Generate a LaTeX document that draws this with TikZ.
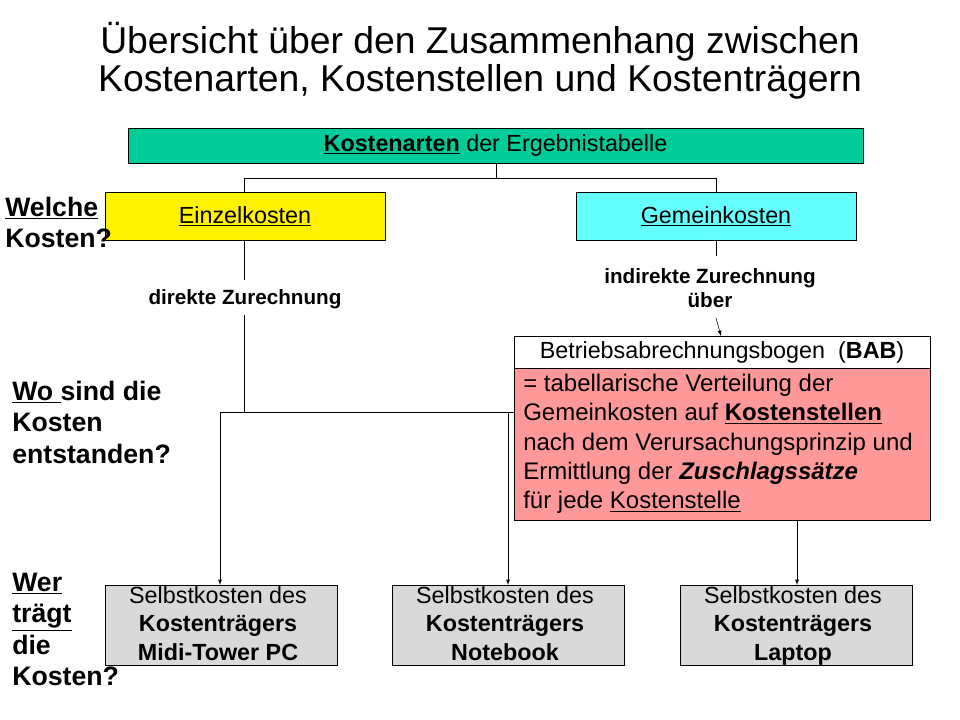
\documentclass[tikz,border=0pt]{standalone}
\usepackage{fontspec}
\setmainfont{Liberation Sans}
\usetikzlibrary{positioning,arrows}
\definecolor{artgreen}{RGB}{0,204,153}
\definecolor{gemcyan}{RGB}{102,255,255}
\definecolor{babpink}{RGB}{255,153,153}
\definecolor{trgray}{RGB}{217,217,217}
\newcommand{\ulin}[1]{\underline{#1}}
\tikzset{
  kbox/.style={inner sep=0pt, font=\fontsize{17.5}{20}\selectfont},
  side/.style={anchor=north west, align=left, inner sep=0pt, font=\bfseries\fontsize{20}{23.5}\selectfont},
  hint/.style={align=center, inner sep=1pt, font=\bfseries\fontsize{15.5}{18.5}\selectfont},
  pfeil/.style={-latex}
}
\begin{document}
\begin{tikzpicture}[x=0.75pt,y=-0.75pt]
\useasboundingbox (0,0) rectangle (960,720);
% Titel
\node[align=center, font=\fontsize{28}{28.5}\selectfont] (titel) at (480,61)
  {Übersicht über den Zusammenhang zwischen\\Kostenarten, Kostenstellen und Kostenträgern};
% Kostenarten
\draw[fill=artgreen] (128,128) rectangle (863,163);
\node[kbox] (arten) at (495.5,145.5) {\textbf{\ulin{Kostenarten}} der Ergebnistabelle};
\draw[fill=yellow] (105,192) rectangle (385,240);
\node[kbox] (einzel) at (245,216) {\ulin{Einzelkosten}};
\draw[fill=gemcyan] (576,192) rectangle (856,240);
\node[kbox] (gemein) at (716,216) {\ulin{Gemeinkosten}};
\coordinate (split) at (496,178);
\draw (496,163) -- (split);
\draw (244,192) -- (244,178) -- (716,178) -- (716,192);
% Zurechnung
\node[hint] (direkt) at (245,299) {direkte Zurechnung};
\node[hint] (indirekt) at (710,288) {indirekte Zurechnung\\über};
\draw (244,240) -- (244,280);
\draw (244,315) -- (244,412);
\draw (716,240) -- (716,256);
\draw[pfeil] (716,318) -- (721,336);
% BAB
\draw[fill=white] (514,336) rectangle (930,368);
\node[kbox] (bab) at (722,352) {Betriebsabrechnungsbogen\ \ (\textbf{BAB})};
\draw[fill=babpink] (514,368) rectangle (930,520);
\node[anchor=north west, align=left, inner sep=0pt, font=\fontsize{18}{22}\selectfont] (vert) at (523,374)
  {= tabellarische Verteilung der\\Gemeinkosten auf \textbf{\ulin{Kostenstellen}}\\nach dem Verursachungsprinzip und\\Ermittlung der \textbf{\itshape Zuschlagssätze}\\für jede \ulin{Kostenstelle}};
% Kostentraeger
\foreach \x/\name/\txt in {105/midi/Midi-Tower PC, 392/note/Notebook, 680/lap/Laptop}{
  \draw[fill=trgray] (\x,585) rectangle (\x+232,665);
  \node[anchor=north, align=center, inner sep=0pt, font=\fontsize{17.5}{21.5}\selectfont] (\name) at (\x+113,586)
    {Selbstkosten des\\\textbf{Kostenträgers}\\\textbf{\txt}};
}
\draw (220,412) -- (514,412);
\draw[pfeil] (220,412) -- (220,585);
\draw[pfeil] (508,412) -- (508,585);
\draw[pfeil] (797,520) -- (797,585);
% Fragen links
\node[side] (welche) at (5,197) {\ulin{Welche}\\Kosten?};
\node[side] (wo) at (12,381) {\ulin{Wo }sind die\\Kosten\\entstanden?};
\node[side] (wer) at (12,573) {\ulin{Wer}\\\ulin{trägt}\\die\\Kosten?};
\end{tikzpicture}
\end{document}
